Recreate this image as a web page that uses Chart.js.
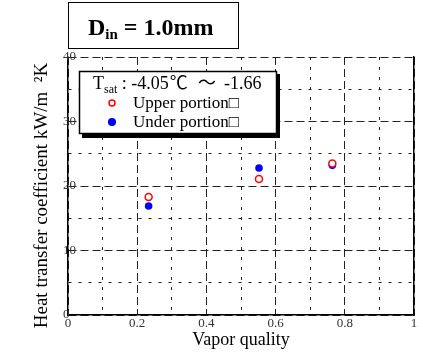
<!DOCTYPE html>
<html>
<head>
<meta charset="utf-8">
<script src="https://cdn.jsdelivr.net/npm/chart.js@4"></script>
<style>
  html, body { margin: 0; padding: 0; background: #fff; }
  #wrap { width: 423px; height: 354px; }
</style>
</head>
<body>
<div id="wrap"><canvas id="chart" width="423" height="354"></canvas></div>
<script>
// values
const quality = [0.233, 0.552, 0.764];
const upperHTC = [18.3, 21.1, 23.5];
const underHTC = [16.9, 22.8, 23.2];
const seriesNames = ['Upper portion\u25A1', 'Under portion\u25A1'];
const headerText = ['D', 'in', ' = 1.0mm'];
const tsatText = ['T', 'sat', ' : -4.05', '\u2103', '\uFF5E', '-1.66'];

const serif = "'Liberation Serif', 'Times New Roman', serif";
const serifCJK = "'Liberation Serif', 'Noto Sans CJK JP', serif";

const toPoints = (ys) => quality.map((x, i) => ({ x: x, y: ys[i] }));

// grid: long dashes on labelled ticks, short dashes between
const xDash = (c) => {
  if (!c.tick) return [];
  return Math.round(c.tick.value * 10) % 2 === 0 ? [8, 4] : [3, 7];
};
const yDash = (c) => {
  if (!c.tick) return [];
  return Math.round(c.tick.value) % 10 === 0 ? [8, 4] : [3, 7];
};

// header box, legend box
const decor = {
  id: 'decor',
  afterDraw(chart) {
    const ctx = chart.ctx;
    const ds = chart.data.datasets;
    ctx.save();

    // D_in box
    ctx.fillStyle = '#fff';
    ctx.fillRect(68, 2, 170, 46);
    ctx.strokeStyle = '#000';
    ctx.lineWidth = 1;
    ctx.strokeRect(68.5, 2.5, 170, 46);
    ctx.fillStyle = '#000';
    ctx.textBaseline = 'alphabetic';
    let x = 88;
    ctx.font = 'bold 24px ' + serif;
    ctx.fillText(headerText[0], x, 35);
    x += ctx.measureText(headerText[0]).width;
    ctx.font = 'bold 15px ' + serif;
    ctx.fillText(headerText[1], x, 39);
    x += ctx.measureText(headerText[1]).width;
    ctx.font = 'bold 24px ' + serif;
    ctx.fillText(headerText[2], x, 35);

    // legend box with shadow
    ctx.fillStyle = '#000';
    ctx.fillRect(82, 74, 198, 64);
    ctx.fillStyle = '#fff';
    ctx.fillRect(79, 71, 198, 63);
    ctx.strokeStyle = '#000';
    ctx.lineWidth = 1.5;
    ctx.strokeRect(79.5, 71.5, 197, 62);

    ctx.fillStyle = '#000';
    x = 93;
    ctx.font = '18px ' + serifCJK;
    ctx.fillText(tsatText[0], x, 89);
    x += ctx.measureText(tsatText[0]).width;
    ctx.font = '12px ' + serif;
    ctx.fillText(tsatText[1], x, 93);
    x += ctx.measureText(tsatText[1]).width;
    ctx.font = '18px ' + serifCJK;
    ctx.fillText(tsatText[2], x, 89);
    x += ctx.measureText(tsatText[2]).width + 1;
    ctx.fillText(tsatText[3], x, 89);
    x += ctx.measureText(tsatText[3]).width;
    ctx.fillText(tsatText[4], Math.max(x + 6, 198), 89);
    ctx.fillText(tsatText[5], 224, 89);

    ctx.font = '17px ' + serifCJK;
    ctx.textBaseline = 'middle';
    const rows = [103, 122];
    ds.forEach((d, i) => {
      ctx.beginPath();
      ctx.arc(112, rows[i], d.pointRadius - 0.5, 0, Math.PI * 2);
      ctx.fillStyle = d.backgroundColor;
      ctx.fill();
      ctx.lineWidth = d.borderWidth;
      ctx.strokeStyle = d.borderColor;
      ctx.stroke();
      ctx.fillStyle = '#000';
      ctx.fillText(d.label, 133, rows[i] + 1);
    });
    ctx.restore();
  }
};

new Chart(document.getElementById('chart'), {
  type: 'scatter',
  data: {
    datasets: [
      {
        label: seriesNames[0],
        data: toPoints(upperHTC),
        pointRadius: 3.5,
        borderWidth: 1.5,
        borderColor: '#ff0000',
        backgroundColor: '#ffffff'
      },
      {
        label: seriesNames[1],
        data: toPoints(underHTC),
        pointRadius: 3.8,
        borderWidth: 0,
        borderColor: '#0000ff',
        backgroundColor: '#0000ff'
      }
    ]
  },
  options: {
    responsive: false,
    animation: false,
    layout: { padding: { left: 30, top: 57, right: 9, bottom: 0 } },
    plugins: {
      legend: { display: false },
      tooltip: { enabled: false }
    },
    scales: {
      x: {
        type: 'linear',
        min: 0,
        max: 1,
        afterFit: (s) => { s.height = 39; },
        ticks: {
          stepSize: 0.1,
          autoSkip: false,
          maxRotation: 0,
          padding: 1,
          color: '#333',
          font: { family: serif, size: 13 },
          callback: (v) => Math.round(v * 10) % 2 === 0 ? String(Math.round(v * 10) / 10) : ''
        },
        grid: { color: '#222', lineWidth: 1, drawTicks: false },
        border: { display: true, color: '#000', width: 1.5, dash: xDash },
        title: {
          display: true,
          text: 'Vapor quality',
          color: '#000',
          font: { family: serif, size: 18 },
          padding: { top: 0, bottom: 3 }
        }
      },
      y: {
        type: 'linear',
        min: 0,
        max: 40,
        afterFit: (s) => { s.width = 38; },
        ticks: {
          stepSize: 5,
          autoSkip: false,
          mirror: true,
          padding: -5,
          color: '#333',
          font: { family: serif, size: 13 },
          callback: (v) => v % 10 === 0 ? String(v) : ''
        },
        grid: { color: '#222', lineWidth: 1, drawTicks: false },
        border: { display: true, color: '#000', width: 1.5, dash: yDash },
        title: {
          display: true,
          text: 'Heat transfer coefficient kW/m  \u00B2K    ',
          color: '#000',
          font: { family: serif, size: 19 },
          padding: { top: 1, bottom: 0 }
        }
      },
      y2: {
        type: 'linear',
        position: 'right',
        min: 0,
        max: 40,
        afterFit: (s) => { s.width = 0; },
        ticks: { display: false },
        grid: { drawOnChartArea: false, drawTicks: false },
        border: { display: true, color: '#000', width: 1.5 }
      }
    }
  },
  plugins: [decor]
});
</script>
</body>
</html>
